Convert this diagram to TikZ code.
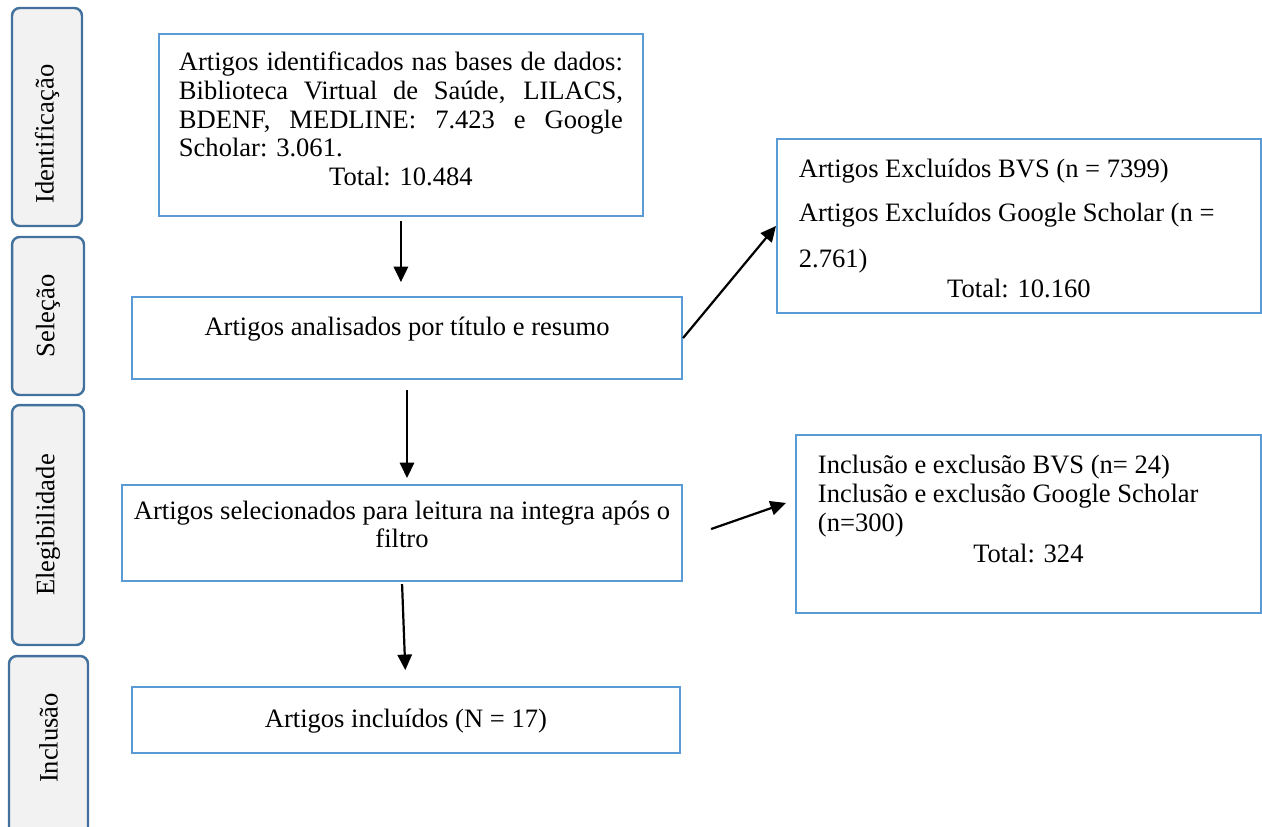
\documentclass[tikz,border=0pt]{standalone}
\usepackage{fontspec}
\setmainfont{Liberation Serif}
\usetikzlibrary{arrows.meta}
\definecolor{boxblue}{HTML}{5B9BD5}
\definecolor{stageblue}{HTML}{41719C}
\definecolor{stagefill}{HTML}{F2F2F2}
\tikzset{
  flowbox/.style={draw=boxblue, line width=0.9pt, inner ysep=0pt, inner xsep=4.5pt,
    anchor=north west, font=\fontsize{12}{12.9}\selectfont},
  stage/.style={draw=stageblue, fill=stagefill, line width=1.1pt, rounded corners=3.5pt,
    rotate=90, inner sep=0pt, font=\fontsize{12}{12.9}\selectfont},
  link/.style={->, line width=1pt}
}
\begin{document}
\begin{tikzpicture}[x=0.4518pt, y=-0.4518pt, >={Triangle[length=7pt,width=6.5pt]}]
  \useasboundingbox (0,0) rectangle (1262,827);
  \clip (0,0) rectangle (1262,827);
  % fases
  \node[stage, minimum width=98.5pt, minimum height=31.6pt] (fid) at (47,117) {\hspace*{-15.4pt}Identificação};
  \node[stage, minimum width=71.4pt, minimum height=32.5pt] (fsel) at (48,316) {Seleção};
  \node[stage, minimum width=108.4pt, minimum height=32.5pt] (feleg) at (48,525) {Elegibilidade};
  \node[stage, minimum width=87.6pt, minimum height=35.7pt] (fincl) at (48.5,753) {Inclusão\hspace*{-13.6pt}};
  % caixas
  \node[flowbox, inner xsep=9pt, text width=200.6pt, align=justify, text height=16.7pt, text depth=65.5pt] (ident) at (158,33)
    {Artigos identificados nas bases de dados:\linebreak Biblioteca Virtual de Saúde, LILACS,\linebreak BDENF, MEDLINE: 7.423 e Google\linebreak Scholar: 3.061.\par{\centering Total: 10.484\par}};
  \node[flowbox, text width=239.5pt, align=flush center, text height=17.2pt, text depth=19.9pt] (sel) at (131,296)
    {Artigos analisados por título e resumo};
  \node[flowbox, inner xsep=9.9pt, text width=198.8pt, align=flush left, text height=17.2pt, text depth=61.4pt] (excl) at (776,138)
    {Artigos Excluídos BVS (n = 7399)\\[7pt] Artigos Excluídos Google Scholar (n =\\[7.9pt] 2.761)\\[0.7pt] \makebox[\linewidth]{Total: 10.160}};
  \node[flowbox, text width=244pt, align=flush center, text height=15.4pt, text depth=28pt] (eleg) at (121,484)
    {Artigos selecionados para leitura na integra após o\\ filtro};
  \node[flowbox, inner xsep=9.9pt, text width=190.2pt, align=flush left, text height=17.6pt, text depth=62.8pt] (incexc) at (795,434)
    {Inclusão e exclusão BVS (n= 24)\\ Inclusão e exclusão Google Scholar\\ (n=300)\\[1.4pt] \makebox[\linewidth]{Total: 324}};
  \node[flowbox, text width=238.5pt, align=flush center, text height=18.1pt, text depth=11.7pt] (incl) at (131,686)
    {Artigos incluídos (N = 17)};
  % setas
  \draw[link, shorten <=1.8pt, shorten >=6.3pt] (ident.south) -- (ident.south |- sel.north);
  \draw[link] (sel.east) -- (excl.west);
  \draw[link, shorten <=4.5pt, shorten >=2.7pt] (sel.south) -- (sel.south |- eleg.north);
  \draw[link] ([xshift=12.7pt,yshift=1.8pt]eleg.east) -- ([xshift=-4.1pt,yshift=9.5pt]incexc.west);
  \draw[link, shorten <=0.9pt, shorten >=7.2pt] (eleg.south) -- (incl.north);
\end{tikzpicture}
\end{document}
